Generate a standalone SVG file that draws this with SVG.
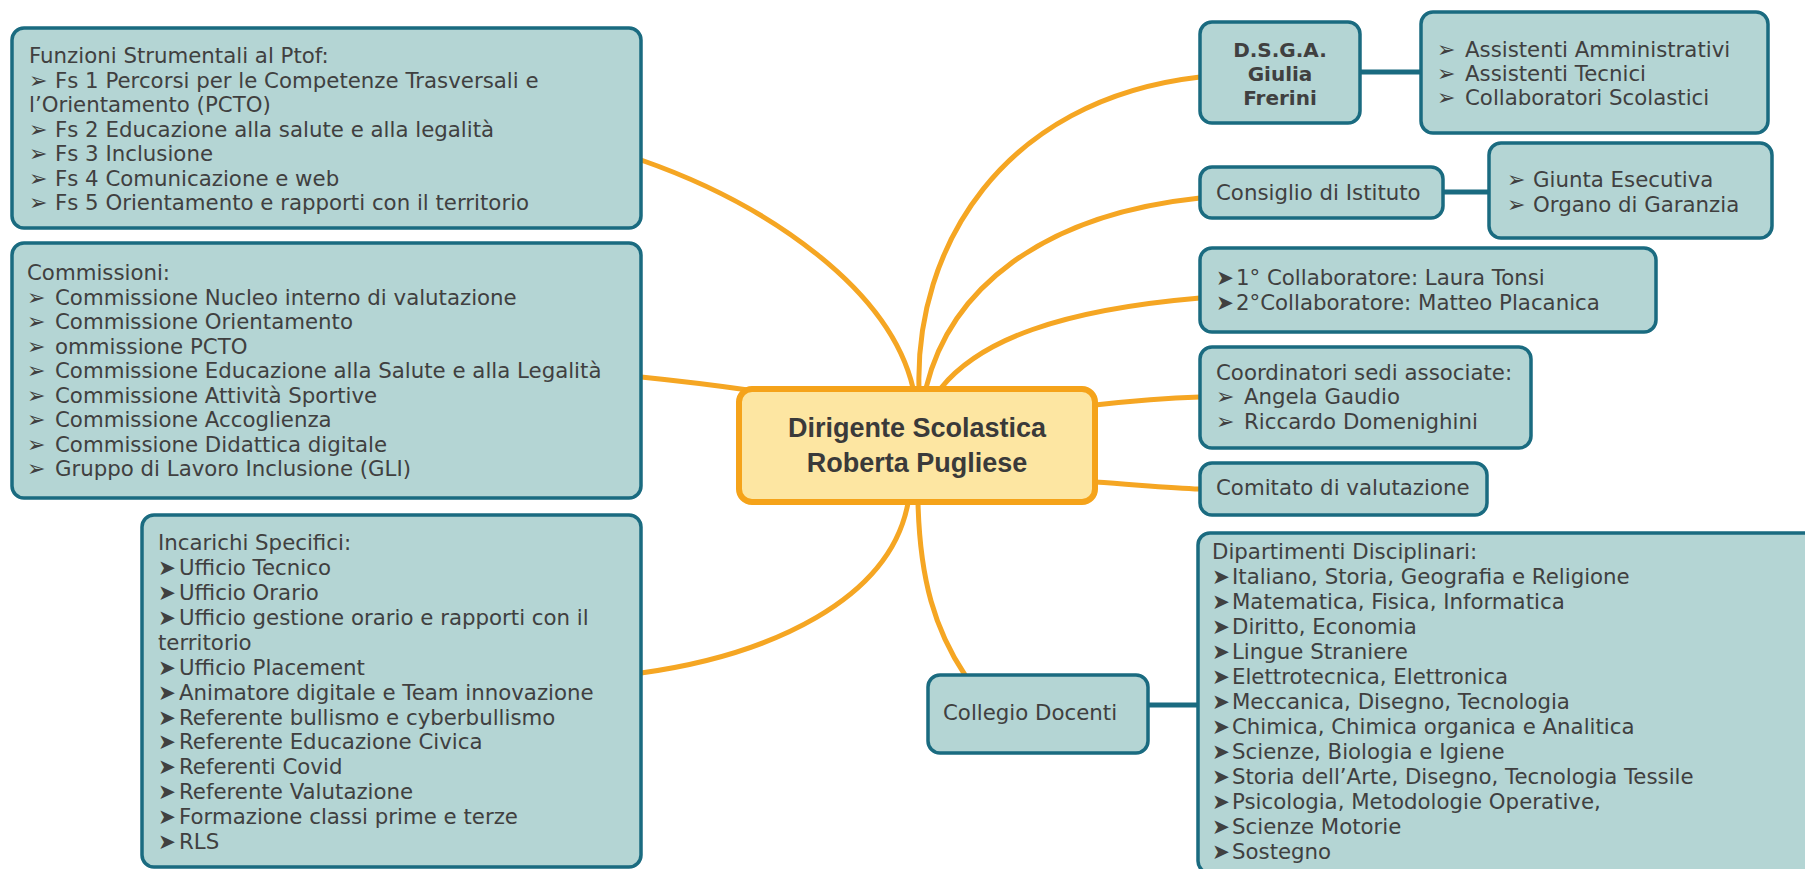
<svg xmlns="http://www.w3.org/2000/svg" width="1805" height="869" viewBox="0 0 1805 869">
<style>
.box{fill:#b4d5d4;stroke:#1a6b80;stroke-width:3.5}
.t{font-family:"DejaVu Sans",Verdana,sans-serif;font-size:21.3px;fill:#404040}
.b{font-weight:bold;font-size:20px;text-anchor:middle}
.oc{fill:none;stroke:#f5a623;stroke-width:5;stroke-linecap:round}
.tc{fill:none;stroke:#1a6b80;stroke-width:5}
.ar{font-size:22px}
</style>
<rect width="1805" height="869" fill="#ffffff"/>
<g id="connectors">
<path class="oc" d="M641,160 C770,205 890,290 913,388"/>
<path class="oc" d="M641,377 C690,382 720,386 748,390"/>
<path class="oc" d="M908,503 C890,600 770,655 641,673"/>
<path class="oc" d="M919,388 C915,250 1000,100 1200,77"/>
<path class="oc" d="M926,388 C950,290 1040,215 1200,198"/>
<path class="oc" d="M941,388 C980,340 1060,310 1200,298"/>
<path class="oc" d="M1095,405 C1140,400 1170,398 1200,397"/>
<path class="oc" d="M1095,482 C1140,485 1170,488 1200,489"/>
<path class="oc" d="M918,503 C920,580 935,630 965,675"/>
<line class="tc" x1="1360" y1="72" x2="1421" y2="72"/>
<line class="tc" x1="1443" y1="192" x2="1489" y2="192"/>
<line class="tc" x1="1148" y1="705" x2="1198" y2="705"/>
</g>
<g id="funzioni">
<rect class="box" x="12" y="28" width="629" height="200" rx="12"/>
<text class="t" x="29" y="63">Funzioni Strumentali al Ptof:</text>
<text class="t" y="87.5"><tspan class="ar" x="29">➢</tspan><tspan x="55">Fs 1 Percorsi per le Competenze Trasversali e</tspan></text>
<text class="t" x="29" y="112">l’Orientamento (PCTO)</text>
<text class="t" y="136.5"><tspan class="ar" x="29">➢</tspan><tspan x="55">Fs 2 Educazione alla salute e alla legalità</tspan></text>
<text class="t" y="161"><tspan class="ar" x="29">➢</tspan><tspan x="55">Fs 3 Inclusione</tspan></text>
<text class="t" y="185.5"><tspan class="ar" x="29">➢</tspan><tspan x="55">Fs 4 Comunicazione e web</tspan></text>
<text class="t" y="210"><tspan class="ar" x="29">➢</tspan><tspan x="55">Fs 5 Orientamento e rapporti con il territorio</tspan></text>
</g>
<g id="commissioni">
<rect class="box" x="12" y="243" width="629" height="255" rx="12"/>
<text class="t" x="27" y="280">Commissioni:</text>
<text class="t" y="304.5"><tspan class="ar" x="27">➢</tspan><tspan x="55">Commissione Nucleo interno di valutazione</tspan></text>
<text class="t" y="329"><tspan class="ar" x="27">➢</tspan><tspan x="55">Commissione Orientamento</tspan></text>
<text class="t" y="353.5"><tspan class="ar" x="27">➢</tspan><tspan x="55">ommissione PCTO</tspan></text>
<text class="t" y="378"><tspan class="ar" x="27">➢</tspan><tspan x="55">Commissione Educazione alla Salute e alla Legalità</tspan></text>
<text class="t" y="402.5"><tspan class="ar" x="27">➢</tspan><tspan x="55">Commissione Attività Sportive</tspan></text>
<text class="t" y="427"><tspan class="ar" x="27">➢</tspan><tspan x="55">Commissione Accoglienza</tspan></text>
<text class="t" y="451.5"><tspan class="ar" x="27">➢</tspan><tspan x="55">Commissione Didattica digitale</tspan></text>
<text class="t" y="476"><tspan class="ar" x="27">➢</tspan><tspan x="55">Gruppo di Lavoro Inclusione (GLI)</tspan></text>
</g>
<g id="incarichi">
<rect class="box" x="142" y="515" width="499" height="352" rx="12"/>
<text class="t" x="158" y="550">Incarichi Specifici:</text>
<text class="t" y="575"><tspan x="158">➤</tspan><tspan x="179">Ufficio Tecnico</tspan></text>
<text class="t" y="600"><tspan x="158">➤</tspan><tspan x="179">Ufficio Orario</tspan></text>
<text class="t" y="625"><tspan x="158">➤</tspan><tspan x="179">Ufficio gestione orario e rapporti con il</tspan></text>
<text class="t" x="158" y="650">territorio</text>
<text class="t" y="674.5"><tspan x="158">➤</tspan><tspan x="179">Ufficio Placement</tspan></text>
<text class="t" y="699.5"><tspan x="158">➤</tspan><tspan x="179">Animatore digitale e Team innovazione</tspan></text>
<text class="t" y="724.5"><tspan x="158">➤</tspan><tspan x="179">Referente bullismo e cyberbullismo</tspan></text>
<text class="t" y="749"><tspan x="158">➤</tspan><tspan x="179">Referente Educazione Civica</tspan></text>
<text class="t" y="774"><tspan x="158">➤</tspan><tspan x="179">Referenti Covid</tspan></text>
<text class="t" y="799"><tspan x="158">➤</tspan><tspan x="179">Referente Valutazione</tspan></text>
<text class="t" y="824"><tspan x="158">➤</tspan><tspan x="179">Formazione classi prime e terze</tspan></text>
<text class="t" y="849"><tspan x="158">➤</tspan><tspan x="179">RLS</tspan></text>
</g>
<g id="dirigente">
<rect x="739" y="389" width="356" height="113" rx="13" fill="#fde6a2" stroke="#f5a31a" stroke-width="6"/>
<text x="917" y="437" text-anchor="middle" font-family="'Liberation Sans',Arial,sans-serif" font-weight="bold" font-size="27" fill="#3a3a3a">Dirigente Scolastica</text>
<text x="917" y="472" text-anchor="middle" font-family="'Liberation Sans',Arial,sans-serif" font-weight="bold" font-size="27" fill="#3a3a3a">Roberta Pugliese</text>
</g>
<g id="dsga">
<rect class="box" x="1200" y="22" width="160" height="101" rx="12"/>
<text class="t b" x="1280" y="57">D.S.G.A.</text>
<text class="t b" x="1280" y="81">Giulia</text>
<text class="t b" x="1280" y="105">Frerini</text>
</g>
<g id="assistenti">
<rect class="box" x="1421" y="12" width="347" height="121" rx="12"/>
<text class="t" y="57"><tspan class="ar" x="1437">➢</tspan><tspan x="1465">Assistenti Amministrativi</tspan></text>
<text class="t" y="81"><tspan class="ar" x="1437">➢</tspan><tspan x="1465">Assistenti Tecnici</tspan></text>
<text class="t" y="105"><tspan class="ar" x="1437">➢</tspan><tspan x="1465">Collaboratori Scolastici</tspan></text>
</g>
<g id="consiglio">
<rect class="box" x="1200" y="167" width="243" height="51" rx="12"/>
<text class="t" x="1216" y="200">Consiglio di Istituto</text>
</g>
<g id="giunta">
<rect class="box" x="1489" y="143" width="283" height="95" rx="12"/>
<text class="t" y="187"><tspan class="ar" x="1507">➢</tspan><tspan x="1533">Giunta Esecutiva</tspan></text>
<text class="t" y="212"><tspan class="ar" x="1507">➢</tspan><tspan x="1533">Organo di Garanzia</tspan></text>
</g>
<g id="collaboratori">
<rect class="box" x="1200" y="248" width="456" height="84" rx="12"/>
<text class="t" y="285"><tspan x="1216">➤</tspan><tspan x="1236">1° Collaboratore: Laura Tonsi</tspan></text>
<text class="t" y="310"><tspan x="1216">➤</tspan><tspan x="1236">2°Collaboratore: Matteo Placanica</tspan></text>
</g>
<g id="coordinatori">
<rect class="box" x="1200" y="347" width="331" height="101" rx="12"/>
<text class="t" x="1216" y="380">Coordinatori sedi associate:</text>
<text class="t" y="404"><tspan class="ar" x="1216">➢</tspan><tspan x="1244">Angela Gaudio</tspan></text>
<text class="t" y="429"><tspan class="ar" x="1216">➢</tspan><tspan x="1244">Riccardo Domenighini</tspan></text>
</g>
<g id="comitato">
<rect class="box" x="1200" y="463" width="287" height="52" rx="12"/>
<text class="t" x="1216" y="495">Comitato di valutazione</text>
</g>
<g id="collegio">
<rect class="box" x="928" y="675" width="220" height="78" rx="12"/>
<text class="t" x="943" y="720">Collegio Docenti</text>
</g>
<g id="dipartimenti">
<rect class="box" x="1198" y="533" width="640" height="340" rx="12"/>
<text class="t" x="1212" y="559">Dipartimenti Disciplinari:</text>
<text class="t" y="584"><tspan x="1212">➤</tspan><tspan x="1232">Italiano, Storia, Geografia e Religione</tspan></text>
<text class="t" y="609"><tspan x="1212">➤</tspan><tspan x="1232">Matematica, Fisica, Informatica</tspan></text>
<text class="t" y="634"><tspan x="1212">➤</tspan><tspan x="1232">Diritto, Economia</tspan></text>
<text class="t" y="659"><tspan x="1212">➤</tspan><tspan x="1232">Lingue Straniere</tspan></text>
<text class="t" y="684"><tspan x="1212">➤</tspan><tspan x="1232">Elettrotecnica, Elettronica</tspan></text>
<text class="t" y="709"><tspan x="1212">➤</tspan><tspan x="1232">Meccanica, Disegno, Tecnologia</tspan></text>
<text class="t" y="734"><tspan x="1212">➤</tspan><tspan x="1232">Chimica, Chimica organica e Analitica</tspan></text>
<text class="t" y="759"><tspan x="1212">➤</tspan><tspan x="1232">Scienze, Biologia e Igiene</tspan></text>
<text class="t" y="784"><tspan x="1212">➤</tspan><tspan x="1232">Storia dell’Arte, Disegno, Tecnologia Tessile</tspan></text>
<text class="t" y="809"><tspan x="1212">➤</tspan><tspan x="1232">Psicologia, Metodologie Operative,</tspan></text>
<text class="t" y="834"><tspan x="1212">➤</tspan><tspan x="1232">Scienze Motorie</tspan></text>
<text class="t" y="859"><tspan x="1212">➤</tspan><tspan x="1232">Sostegno</tspan></text>
</g>
</svg>
